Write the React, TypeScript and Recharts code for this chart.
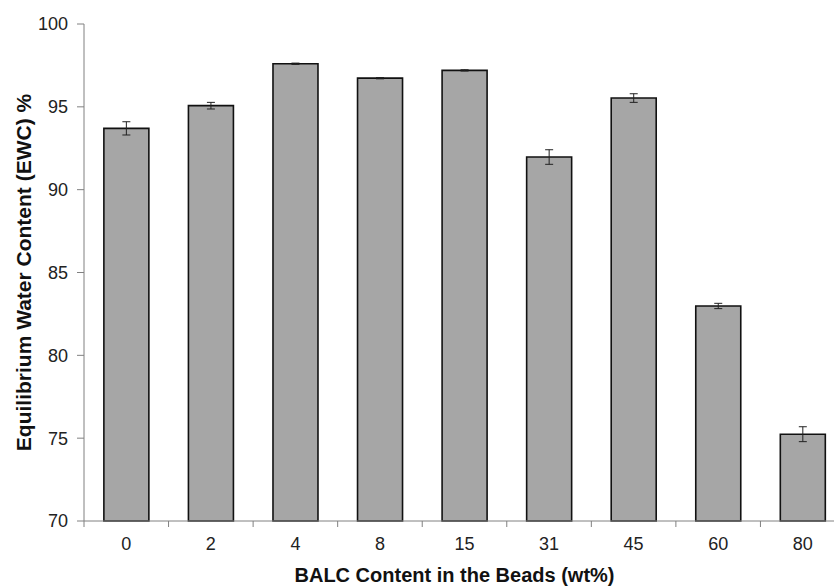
import { Bar, BarChart, ErrorBar, XAxis, YAxis } from "recharts";

const balcContent = ["0", "2", "4", "8", "15", "31", "45", "60", "80"];
const ewc = [93.7, 95.07, 97.6, 96.73, 97.2, 91.97, 95.53, 82.98, 75.24];
const ewcError = [0.4, 0.2, 0.04, 0.04, 0.04, 0.44, 0.26, 0.16, 0.45];
const yTicks = [70, 75, 80, 85, 90, 95, 100];

const data = balcContent.map((c, i) => ({ c, ewc: ewc[i], err: ewcError[i] }));

const font = "'Liberation Sans', Arial, sans-serif";
const TICK_SIZE = 16;

function CategoryTick(props: any) {
  const { x, y, payload } = props;
  const axisY = y - TICK_SIZE;
  const edge = x - (payload.offset ?? 0);
  return (
    <g>
      <line x1={edge} x2={edge} y1={axisY} y2={axisY + 6} stroke="#808080" strokeWidth={1} />
      <text x={x} y={y} dy="0.71em" textAnchor="middle" fontSize={18} fontFamily={font} fill="#222">
        {payload.value}
      </text>
    </g>
  );
}

export default function App() {
  return (
    <div style={{ position: "absolute", left: 0, top: 0, width: 834, height: 586, overflow: "hidden", background: "#fff" }}>
      <BarChart
        width={850}
        height={586}
        data={data}
        margin={{ top: 24, right: 5, bottom: 0, left: 0 }}
        barCategoryGap="23.5%"
      >
        <XAxis
          dataKey="c"
          height={65}
          tickLine={false}
          tickSize={TICK_SIZE}
          tickMargin={0}
          interval={0}
          tick={<CategoryTick />}
          axisLine={{ stroke: "#808080", strokeWidth: 1 }}
          label={{
            value: "BALC Content in the Beads (wt%)",
            position: "insideBottom",
            offset: 4,
            dx: -10,
            style: { fontFamily: font, fontWeight: "bold", fontSize: 20, fill: "#111" },
          }}
        />
        <YAxis
          width={84}
          domain={[70, 100]}
          ticks={yTicks}
          interval={0}
          tickSize={7}
          tickMargin={9}
          tickLine={{ stroke: "#808080" }}
          axisLine={{ stroke: "#808080", strokeWidth: 1 }}
          tick={{ fontSize: 18, fontFamily: font, fill: "#222" }}
          label={{
            value: "Equilibrium Water Content (EWC) %",
            angle: -90,
            position: "insideLeft",
            offset: 24,
            style: { textAnchor: "middle", fontFamily: font, fontWeight: "bold", fontSize: 21, fill: "#111" },
          }}
        />
        <Bar dataKey="ewc" fill="#a6a6a6" stroke="#111" strokeWidth={1.6} isAnimationActive={false}>
          <ErrorBar dataKey="err" width={4} stroke="#222" strokeWidth={1} direction="y" />
        </Bar>
      </BarChart>
    </div>
  );
}
